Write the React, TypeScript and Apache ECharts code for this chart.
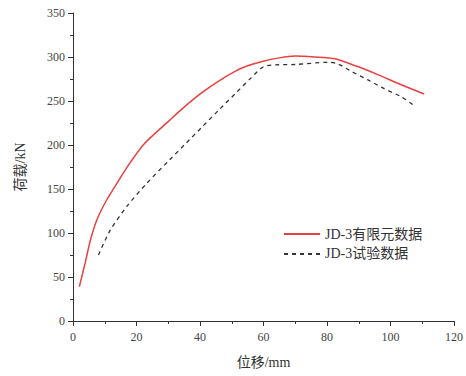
import React, { useEffect, useRef } from "react";
import * as echarts from "echarts";

const feX = [2.0, 3.8, 5.5, 7.5, 10.6, 14.8, 18.0, 22.6, 30.4, 35.0, 40.8, 46.0, 51.2, 55.0, 59.6, 65.0, 70.0, 76.0, 82.5, 89.0, 96.0, 103.0, 110.6];
const feY = [39, 65.6, 92, 114.8, 137.5, 162, 180, 202, 228, 243, 260, 273, 284, 290, 295, 299, 301, 300, 298, 290, 280, 269, 258];

const testX = [8, 11.7, 16.9, 23.1, 30.4, 35.6, 40.8, 46, 51.2, 56, 60, 63.7, 70, 80.4, 83.5, 88, 92.9, 98, 103.3, 107];
const testY = [75, 103, 130, 156, 183, 202, 221, 240, 258.7, 276, 289, 291, 291.5, 294, 292, 283, 274, 264, 255, 246];

const seriesNames = ["JD-3有限元数据", "JD-3试验数据"];

const serif = "Liberation Serif, Times New Roman, Noto Sans CJK SC, serif";

export default function App() {
  const ref = useRef<HTMLDivElement>(null);
  useEffect(() => {
    const chart = echarts.init(ref.current!, null, { renderer: "svg" });
    const axisColor = "#333";
    chart.setOption({
      animation: false,
      backgroundColor: "#fff",
      grid: { left: 73, top: 13, right: 8, bottom: 55 },
      legend: {
        orient: "vertical",
        left: 278,
        top: 222,
        itemWidth: 36,
        itemHeight: 8,
        itemGap: 6,
        itemStyle: { opacity: 0 },
        textStyle: { fontFamily: serif, fontSize: 14, color: "#333" },
        data: seriesNames,
      },
      xAxis: {
        type: "value",
        min: 0,
        max: 120,
        interval: 20,
        name: "位移/mm",
        nameLocation: "middle",
        nameGap: 34,
        nameTextStyle: { fontFamily: serif, fontSize: 14, color: "#333" },
        axisLine: { show: true, lineStyle: { color: axisColor, width: 1 } },
        axisTick: { show: true, length: 5, lineStyle: { color: axisColor } },
        minorTick: { show: true, splitNumber: 2, length: 3, lineStyle: { color: axisColor } },
        axisLabel: { fontFamily: serif, fontSize: 12, color: "#444", margin: 10 },
        splitLine: { show: false },
      },
      yAxis: {
        type: "value",
        min: 0,
        max: 350,
        interval: 50,
        name: "荷载/kN",
        nameLocation: "middle",
        nameGap: 46,
        nameRotate: 90,
        nameTextStyle: { fontFamily: serif, fontSize: 14, color: "#333" },
        axisLine: { show: true, lineStyle: { color: axisColor, width: 1 } },
        axisTick: { show: true, length: 5, lineStyle: { color: axisColor } },
        minorTick: { show: true, splitNumber: 2, length: 3, lineStyle: { color: axisColor } },
        axisLabel: { fontFamily: serif, fontSize: 12, color: "#444", margin: 8 },
        splitLine: { show: false },
      },
      series: [
        {
          name: seriesNames[0],
          type: "line",
          smooth: 0.25,
          symbol: "none",
          data: feX.map((x, i) => [x, feY[i]]),
          lineStyle: { color: "#e8413f", width: 1.5 },
          itemStyle: { color: "#e8413f" },
        },
        {
          name: seriesNames[1],
          type: "line",
          smooth: 0.25,
          symbol: "none",
          data: testX.map((x, i) => [x, testY[i]]),
          lineStyle: { color: "#333", width: 1.3, type: [4, 4] },
          itemStyle: { color: "#333" },
        },
      ],
    });
    return () => chart.dispose();
  }, []);
  return <div ref={ref} style={{ position: "fixed", left: 0, top: 0, width: 466, height: 376 }} />;
}
